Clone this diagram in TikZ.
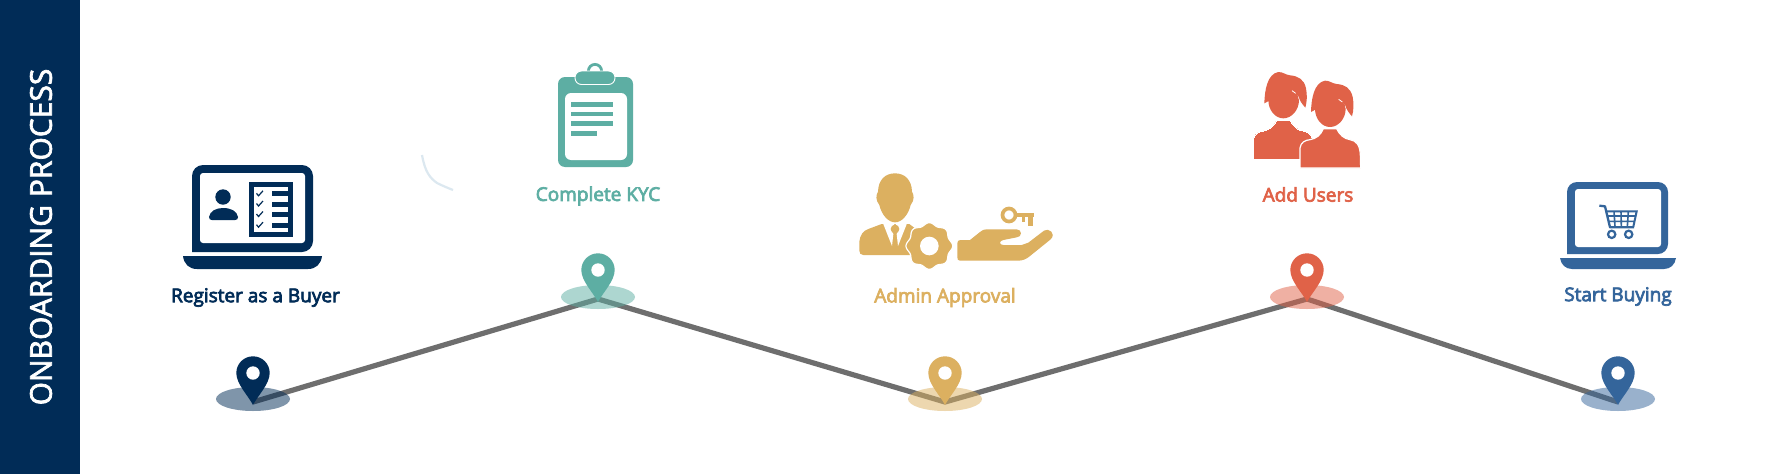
\documentclass[tikz,border=0pt]{standalone}
\usepackage{fontspec}
\setmainfont{Open Sans}
\newcommand{\heavy}[2]{\special{pdf:code 2 Tr #1 w}#2\special{pdf:code 0 Tr 1 w}}
\definecolor{navy}{HTML}{012C57}
\definecolor{teal}{HTML}{5DAEA3}
\definecolor{gold}{HTML}{DCB060}
\definecolor{coral}{HTML}{E06248}
\definecolor{steel}{HTML}{34659B}
\definecolor{linegray}{HTML}{6E6E6E}
\definecolor{wisp}{HTML}{DCE8F0}
\tikzset{
  lab/.style={font=\fontsize{19}{23}\selectfont,inner sep=0pt,anchor=center},
  conn/.style={draw=linegray,line width=5.2pt,miter limit=10},
}
\begin{document}
\begin{tikzpicture}[x=1pt,y=-1pt]
\useasboundingbox (0,0) rectangle (1780,474);
\fill[white] (0,0) rectangle (1780,474);
% sidebar
\fill[navy] (0,0) rectangle (80,474);
\node[text=white,rotate=90,inner sep=0pt] (title) at (41,237) {\fontsize{30}{34}\selectfont\heavy{0.7}{ONBOARDING PROCESS}};
% points
\coordinate (p1) at (253,402);
\coordinate (p2) at (598,299);
\coordinate (p3) at (945,402);
\coordinate (p4) at (1307,299);
\coordinate (p5) at (1618,402);
\draw[conn] (p1) -- (p2) -- (p3) -- (p4) -- (p5);
\fill[navy,opacity=.5] (253,399) ellipse [x radius=37,y radius=12];
\fill[teal,opacity=.5] (598,297) ellipse [x radius=37,y radius=12];
\fill[gold,opacity=.5] (945,399) ellipse [x radius=37,y radius=12];
\fill[coral,opacity=.5] (1307,297) ellipse [x radius=37,y radius=12];
\fill[steel,opacity=.5] (1618,399) ellipse [x radius=37,y radius=12];
\foreach \n/\c in {p1/navy,p2/teal,p3/gold,p4/coral,p5/steel}{
  \begin{scope}[shift={(\n)},yshift=-2pt]
    \fill[\c] (0,1) .. controls (-4.5,-8) and (-16.7,-20) .. (-16.7,-31) arc[start angle=180,end angle=360,radius=16.7]
       .. controls (16.7,-20) and (4.5,-8) .. (0,1) -- cycle;
    \fill[white] (0,-31) circle[radius=6.7];
  \end{scope}
}
% laptop 1
\fill[navy] (192,252) [rounded corners=11] -- (192,165) -- (313,165) [sharp corners] [rounded corners=11] -- (313,252) [sharp corners] -- cycle;
\fill[white,rounded corners=3] (200,173) rectangle (305,243);
\fill[navy] (183,256) -- (322,256) .. controls (321,264) and (316,269) .. (308,269) -- (197,269) .. controls (189,269) and (184,264) .. (183,256) -- cycle;
\fill[navy] (223,197) circle[radius=7.7];
\fill[navy] (209,217) .. controls (210,211) and (216,208) .. (223,208) .. controls (231,208) and (237,211) .. (238,217) .. controls (238,219) and (237,220) .. (235,220) -- (212,220) .. controls (210,220) and (209,219) .. (209,217) -- cycle;
\fill[navy] (249,182) rectangle (293,237);
\fill[white] (254,187) rectangle (288,232);
\foreach \yy in {191.3,201.5,212,222.7}{
  \fill[navy] (272,\yy) rectangle (288,\yy+5);
  \draw[navy,line width=1.2pt] (256.5,\yy+2) -- (258.5,\yy+4.5) -- (263,\yy-.5);
}
\node[lab,text=navy] (l1) at (255.5,297.5) {\heavy{0.7}{Register as a Buyer}};
% clipboard
\draw[teal,line width=2.8pt] (595,71) circle[radius=6.6];
\fill[teal,rounded corners=7] (558,77) rectangle (633,167);
\fill[white,rounded corners=6] (565,93) rectangle (627,160);
\fill[teal,draw=white,line width=.9pt,rounded corners=6.5] (575,71) rectangle (615,84.5);
\fill[teal] (571,102.3) rectangle (613,106.7);
\fill[teal] (571,112) rectangle (613,116.3);
\fill[teal] (571,121.4) rectangle (613,126);
\fill[teal] (571,131) rectangle (597,135.7);
\node[lab,text=teal] (l2) at (598,196) {\heavy{0.7}{Complete KYC}};
% wisp
\draw[wisp,line width=2.2pt] (422,155) .. controls (425,172) and (430,178) .. (437,183) .. controls (443,186) and (448,188) .. (453,190);
% admin icon
\begin{scope}[shift={(840,160)},scale=1/3]
\fill[gold] (58,272) -- (58,245) .. controls (60,225) and (70,212) .. (85,207) -- (125,192) -- (208,192) -- (225,205) -- (225,285) -- (70,285) .. controls (62,285) and (58,280) .. (58,272) -- cycle;
\fill[white] (129,190) -- (156,258) -- (160,222) -- (152,207) -- (165,190) -- (178,207) -- (170,222) -- (174,258) -- (201,190) -- cycle;
\fill[gold] (165,207) circle[radius=13];
\fill[gold] (165,40) .. controls (195,40) and (215,60) .. (216,95) .. controls (222,105) and (224,120) .. (212,135) .. controls (205,165) and (185,187) .. (165,187) .. controls (145,187) and (125,165) .. (118,135) .. controls (106,120) and (108,105) .. (114,95) .. controls (115,60) and (135,40) .. (165,40) -- cycle;
\fill[gold,draw=white,line width=1.2pt] plot[domain=0:360,samples=121,smooth] ({268+(66+4*cos(8*\x))*cos(\x)},{258+(66+4*cos(8*\x))*sin(\x)}) -- cycle;
\fill[white] (268,258) circle[radius=28];
\fill[gold] (352,250) .. controls (352,243) and (355,240) .. (362,240) -- (390,240) -- (420,216) .. controls (427,210) and (432,208) .. (440,208) -- (530,208) .. controls (547,208) and (547,232) .. (530,232) -- (490,240) .. controls (477,242) and (477,255) .. (490,255) -- (545,255) -- (565,248) -- (612,212) .. controls (625,202) and (650,220) .. (632,238) -- (570,288) .. controls (560,297) and (548,302) .. (535,302) -- (360,302) .. controls (354,302) and (352,298) .. (352,292) -- cycle;
\draw[gold,line width=3.7pt] (507,165) circle[radius=19.5];
\fill[gold] (527,160) rectangle (582,170);
\fill[gold] (546,168) rectangle (555,186);
\fill[gold] (565,168) rectangle (578,197);
\end{scope}
\node[lab,text=gold] (l3) at (945,297.5) {\heavy{0.7}{Admin Approval}};
% users
\begin{scope}[shift={(1230,60)},scale=1/3]
\foreach \dx/\dy/\w in {0/0/0,140/26/1.2}{
  \begin{scope}[shift={(\dx,\dy)}]
    \fill[coral,draw=white,line width=\w pt] (70,238) .. controls (72,222) and (85,214) .. (100,213) .. controls (118,210) and (132,200) .. (140,180) -- (180,180) .. controls (190,200) and (202,210) .. (220,213) .. controls (238,216) and (250,228) .. (251,260) -- (252,298) -- (70,298) -- cycle;
    \fill[coral] (115,120) .. controls (115,150) and (135,175) .. (160,175) .. controls (185,175) and (207,150) .. (207,120) -- (190,80) -- (130,85) -- cycle;
    \fill[coral] (103,130) .. controls (104,90) and (112,42) .. (145,36) .. controls (160,36) and (165,44) .. (180,46) .. controls (205,48) and (222,58) .. (228,85) .. controls (232,105) and (231,125) .. (226,143) .. controls (216,132) and (209,122) .. (205,108) -- (187,95) -- (172,112) -- (125,118) -- cycle;
    \fill[coral] (125,118) -- (187,95) -- (205,108) -- (200,140) -- (130,140) -- cycle;
    \draw[white,line width=.8pt] (186,92) -- (197,100);
  \end{scope}
}
\end{scope}
\node[lab,text=coral] (l4) at (1308,194.5) {\heavy{0.7}{Add Users}};
% laptop 5
\fill[steel] (1567,254) [rounded corners=10] -- (1567,182) -- (1668,182) [sharp corners] [rounded corners=10] -- (1668,254) [sharp corners] -- cycle;
\fill[white,rounded corners=3] (1575,189) rectangle (1661,247);
\fill[steel] (1560,258) -- (1676,258) .. controls (1675,265) and (1670,269) .. (1664,269) -- (1572,269) .. controls (1566,269) and (1561,265) .. (1560,258) -- cycle;
\begin{scope}[shift={(1530,170)},scale=1/3]
\draw[steel,line width=2.3pt,line join=round] (208,107) -- (225,109) -- (240,172) -- (312,172);
\draw[steel,line width=2pt] (229,124) -- (320,124) -- (310,170);
\draw[steel,line width=1.6pt] (232,138) -- (316,138) (236,154) -- (313,154)
  (252,124) -- (255,170) (273,124) -- (274,170) (295,124) -- (292,170);
\draw[steel,line width=2.2pt] (245,193) circle[radius=11] (296,193) circle[radius=11];
\end{scope}
\node[lab,text=steel] (l5) at (1618,296.5) {\heavy{0.7}{Start Buying}};
\end{tikzpicture}
\end{document}
